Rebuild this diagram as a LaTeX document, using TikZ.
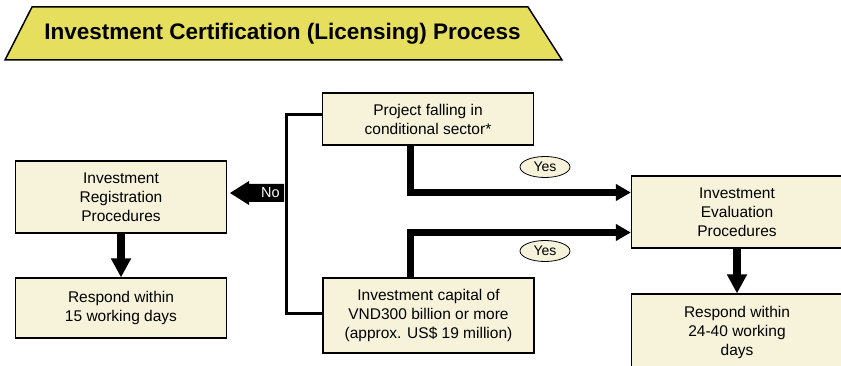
\documentclass[tikz,border=0pt]{standalone}
\usepackage{fontspec}
\setmainfont{Liberation Sans}
\usetikzlibrary{arrows.meta,shapes.geometric}
\definecolor{boxfill}{RGB}{246,243,218}
\definecolor{titlefill}{RGB}{230,223,94}
\begin{document}
\begin{tikzpicture}[x=1pt,y=-1pt,
  box/.style={draw=black,line width=1.2pt,fill=boxfill,align=center,
    font=\fontsize{15.5}{19}\selectfont,inner sep=0pt,minimum width=211pt},
  yesnode/.style={ellipse,draw=black,line width=0.8pt,fill=boxfill,inner sep=0pt,
    minimum width=50pt,minimum height=21pt,font=\fontsize{14}{16}\selectfont},
  harrow/.style={line width=7pt,line join=miter,-{Triangle[length=15pt,width=16pt]}},
  varrow/.style={line width=8pt,-{Triangle[length=19pt,width=19pt]}},
  thinline/.style={line width=3pt,line join=miter}]
\useasboundingbox (0,0) rectangle (841,366);
\clip (0,0) rectangle (841,366);
% title
\draw[fill=titlefill,line width=1.5pt] (32,7) -- (528,7) -- (562,60) -- (5,60) -- cycle;
\node[anchor=base,font=\bfseries\fontsize{22.5}{27}\selectfont,inner sep=0pt] (title) at (282.5,40)
  {Investment Certification (Licensing) Process};
% boxes
\node[box,minimum height=52pt] (proj) at (428,119) {Project falling in\\conditional sector*};
\node[box,minimum height=72pt] (reg) at (121,197) {Investment\\Registration\\Procedures};
\node[box,minimum height=60pt] (r15) at (121,308) {Respond within\\15 working days};
\node[box,minimum height=75pt] (cap) at (428.5,315.5) {Investment capital of\\VND300 billion or more\\(approx. US\$ 19 million)};
\node[box,minimum height=72pt] (eval) at (737,212) {Investment\\Evaluation\\Procedures};
\node[box,minimum height=76pt] (r24) at (737,332) {Respond within\\24-40 working\\days};
% connectors
\coordinate (vx) at (410,0);
\draw[harrow] (proj.south -| vx) |- ([yshift=19.5pt]eval.west);
\draw[harrow] (cap.north -| vx) |- ([yshift=-20.5pt]eval.west);
\draw[varrow] (reg.south) -- (r15.north);
\draw[varrow] (eval.south) -- (r24.north);
\draw[thinline] ([yshift=4pt]proj.west) -- ++(-35,0) |- ([yshift=2.5pt]cap.west);
% No block arrow
\fill[black] (230,193) -- (249,181) -- (249,184) -- (284,184) -- (284,202) -- (249,202) -- (249,205) -- cycle;
\node[text=white,font=\fontsize{14.5}{16}\selectfont,inner sep=0pt] (no) at (270.5,193) {No};
% Yes labels
\node[yesnode] (yes1) at (545,167) {Yes};
\node[yesnode] (yes2) at (545,251) {Yes};
\end{tikzpicture}
\end{document}
